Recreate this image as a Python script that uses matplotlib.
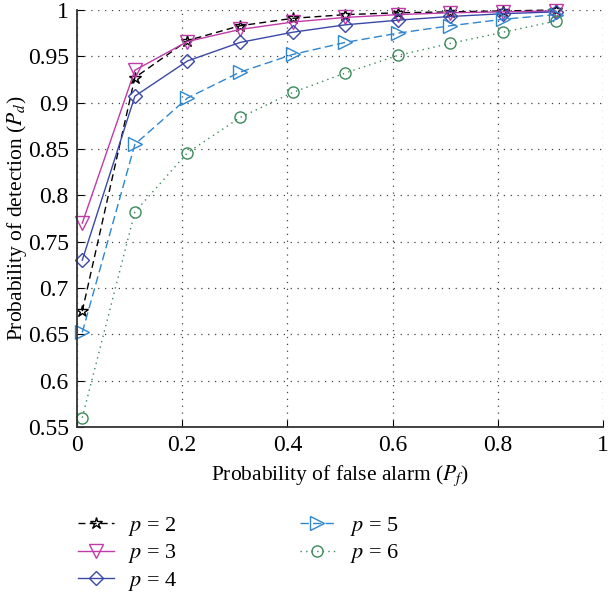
import matplotlib
matplotlib.use("Agg")
import matplotlib.pyplot as plt

plt.rcParams['font.family'] = ['Liberation Serif', 'DejaVu Serif']
plt.rcParams['mathtext.fontset'] = 'stix'

pf = [0.01, 0.11, 0.21, 0.31, 0.41, 0.51, 0.61, 0.71, 0.81, 0.91]
pd_p2 = [0.675, 0.927, 0.967, 0.983, 0.991, 0.995, 0.997, 0.998, 0.999, 1.000]
pd_p3 = [0.770, 0.935, 0.966, 0.979, 0.987, 0.992, 0.995, 0.997, 0.998, 0.999]
pd_p4 = [0.730, 0.907, 0.945, 0.965, 0.976, 0.984, 0.989, 0.993, 0.996, 0.998]
pd_p5 = [0.652, 0.855, 0.905, 0.933, 0.952, 0.965, 0.975, 0.983, 0.990, 0.995]
pd_p6 = [0.560, 0.782, 0.846, 0.884, 0.911, 0.932, 0.951, 0.964, 0.976, 0.988]
labels = ['$p$ = 2', '$p$ = 3', '$p$ = 4', '$p$ = 5', '$p$ = 6']
xticks = [0, 0.2, 0.4, 0.6, 0.8, 1]
yticks = [0.55, 0.6, 0.65, 0.7, 0.75, 0.8, 0.85, 0.9, 0.95, 1]

fig = plt.figure(figsize=(6.09, 5.95), dpi=100)
ax = fig.add_axes([77/609, (595-427)/595, 526/609, 417/595])

styles = [
    dict(color='black', ls=(0, (5, 3)), marker='*', mfc='none', ms=9),
    dict(color='#c03aa8', ls='-', marker='v', mfc='none', ms=10),
    dict(color='#3a48a8', ls='-', marker='D', mfc='none', ms=7),
    dict(color='#2e86d0', ls=(0, (6, 3)), marker='>', mfc='none', ms=10),
    dict(color='#3a8a5a', ls=(0, (1, 3)), marker='o', mfc='none', ms=8),
]
series = [pd_p2, pd_p3, pd_p4, pd_p5, pd_p6]
for ys, lab, st in zip(series, labels, styles):
    ax.plot(pf, ys, label=lab, lw=1.0, mew=1.0, clip_on=False, **st)

ax.set_xlim(0, 1)
ax.set_ylim(0.55, 1)
ax.set_xticks(xticks)
ax.set_xticklabels(['0', '0.2', '0.4', '0.6', '0.8', '1'])
ax.set_yticks(yticks)
ax.set_yticklabels(['0.55', '0.6', '0.65', '0.7', '0.75', '0.8', '0.85', '0.9', '0.95', '1'])
ax.tick_params(direction='in', labelsize=17, length=5, width=0.8, pad=6)
ax.spines['top'].set_visible(False)
ax.spines['right'].set_visible(False)
for s in ['left', 'bottom']:
    ax.spines[s].set_linewidth(1.3)
    ax.spines[s].set_color('#333333')
ax.grid(True, color='#444444', ls=(0, (1, 4.5)), lw=0.9)

ax.set_xlabel('Probability of false alarm ($P_f$)', fontsize=15.5)
ax.set_ylabel('Probability of detection ($P_d$)', fontsize=15.5)
ax.yaxis.set_label_coords((29 - 77) / 526, 0.5)
ax.xaxis.set_label_coords(0.5, -(464 - 427) / 417)

fig.legend(loc='upper left', bbox_to_anchor=(58/609, 1 - 495/595), ncol=2,
           frameon=False, fontsize=16, handlelength=1.6, columnspacing=5.5,
           labelspacing=0.2, handletextpad=0.65)

fig.savefig('out.png', dpi=100)
